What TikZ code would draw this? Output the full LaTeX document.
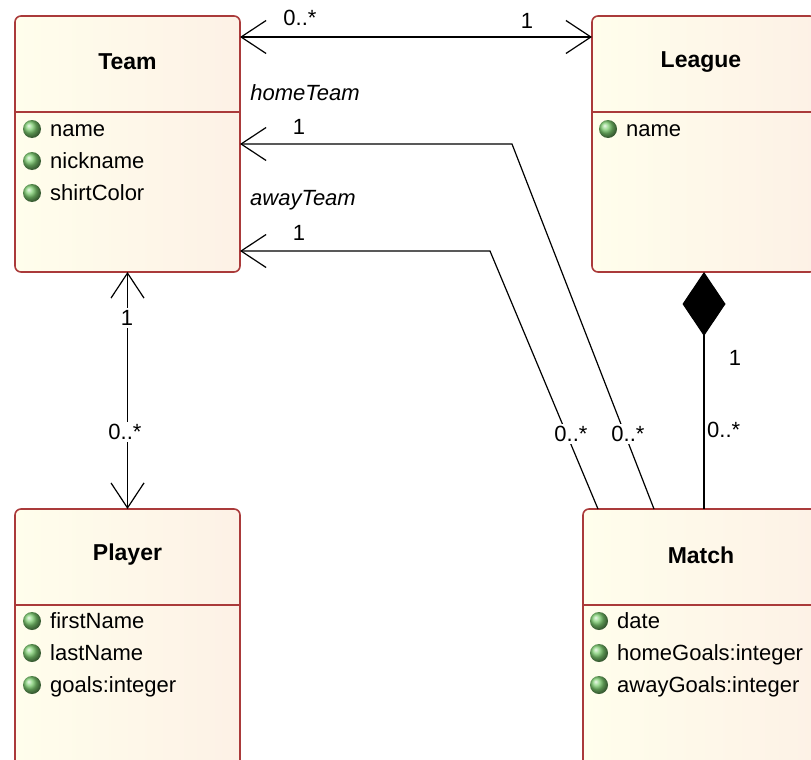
\documentclass[tikz,border=0pt]{standalone}
\usepackage{fontspec}
\setmainfont{Liberation Sans}
\usetikzlibrary{arrows.meta}
\definecolor{classborder}{RGB}{170,58,58}
\definecolor{classleft}{RGB}{255,254,236}
\definecolor{classright}{RGB}{253,241,230}
\definecolor{attrgreen}{RGB}{125,205,112}

\begin{document}
\begin{tikzpicture}[x=1pt,y=-1pt,
  font=\fontsize{22}{26}\selectfont,
  umlclass/.style={draw=classborder,line width=1.6pt,rounded corners=6pt,left color=classleft,right color=classright,anchor=north west,inner sep=0pt,outer sep=0pt},
  divider/.style={draw=classborder,line width=1.6pt},
  classname/.style={font=\fontsize{23}{27}\selectfont\bfseries},
  attr/.style={anchor=west,inner sep=0pt,text height=15pt,text depth=5pt},
  link/.style={line width=1.2pt},
  openend/.style={-{Straight Barb[length=25pt,width=33pt]}},
  bothends/.style={{Straight Barb[length=25pt,width=33pt]}-{Straight Barb[length=25pt,width=33pt]}},
  comp/.style={{Diamond[length=64pt,width=43pt]}-},
  mult/.style={inner sep=1pt},
  onlinemult/.style={fill=white,inner sep=2pt},
  role/.style={font=\fontsize{22}{26}\selectfont\itshape}]
\useasboundingbox (0,0) rectangle (811,760);
\clip (0,0) rectangle (811,760);

\node [umlclass,minimum width=225pt,minimum height=256pt] (team) at (15,16) {};
\node [umlclass,minimum width=224pt,minimum height=256pt] (league) at (592,16) {};
\node [umlclass,minimum width=225pt,minimum height=300pt] (player) at (15,509) {};
\node [umlclass,minimum width=242pt,minimum height=300pt] (match) at (583,509) {};

\draw [divider] ([yshift=-96pt]team.north west) -- ([yshift=-96pt]team.north east);
\draw [divider] ([yshift=-96pt]league.north west) -- ([yshift=-96pt]league.north east);
\draw [divider] ([yshift=-96pt]player.north west) -- ([yshift=-96pt]player.north east);
\draw [divider] ([yshift=-96pt]match.north west) -- ([yshift=-96pt]match.north east);

\node [classname] (teamname) at ([yshift=-46pt]team.north) {Team};
\node [classname] (leaguename) at ([xshift=-3pt,yshift=-46pt]league.north) {League};
\node [classname] (playername) at ([yshift=-46pt]player.north) {Player};
\node [classname] (matchname) at ([xshift=-3pt,yshift=-46pt]match.north) {Match};

\foreach \attrname [count=\i] in {name,nickname,shirtColor} {
  \shade [ball color=attrgreen] (32,{97+32*\i}) circle (9pt);
  \node [attr] (teamattr\i) at (50,{99+32*\i}) {\attrname};
}
\shade [ball color=attrgreen] (608,129) circle (9pt);
\node [attr] (leagueattr1) at (626,131) {name};
\foreach \attrname [count=\i] in {firstName,lastName,goals:integer} {
  \shade [ball color=attrgreen] (32,{589+32*\i}) circle (9pt);
  \node [attr] (playerattr\i) at (50,{591+32*\i}) {\attrname};
}
\foreach \attrname [count=\i] in {date,homeGoals:integer,awayGoals:integer} {
  \shade [ball color=attrgreen] (599,{589+32*\i}) circle (9pt);
  \node [attr] (matchattr\i) at (617,{591+32*\i}) {\attrname};
}

\draw [link,bothends] ([yshift=-21pt]team.north east) -- ([yshift=-21pt]league.north west);
\node [mult] (leaguemany) at (300,18) {0..*};
\node [mult] (leagueone) at (527,21) {1};

\coordinate (homebend) at (512,144);
\coordinate (awaybend) at (490,251);
\draw [link,openend] ([xshift=-50pt]match.north) -- (homebend) -- (team.east);
\draw [link,openend] ([xshift=-106pt]match.north) -- (awaybend) -- ([yshift=21pt]team.south east);
\node [role] (homerole) at (305,93) {homeTeam};
\node [mult] (homeone) at (299,127) {1};
\node [role] (awayrole) at (303,200) {awayTeam};
\node [mult] (awayone) at (299,233) {1};
\node [onlinemult] (awaymany) at (571,434) {0..*};
\node [onlinemult] (homemany) at (628,434) {0..*};

\draw [link,comp] (league.south) -- (match.north);
\node [mult] (compone) at (735,358) {1};
\node [mult,anchor=west] (compmany) at (706,430) {0..*};

\draw [link,bothends] (team.south) -- (player.north);
\node [onlinemult] (playerone) at (127,318) {1};
\node [onlinemult] (playermany) at (125,432) {0..*};
\end{tikzpicture}
\end{document}
